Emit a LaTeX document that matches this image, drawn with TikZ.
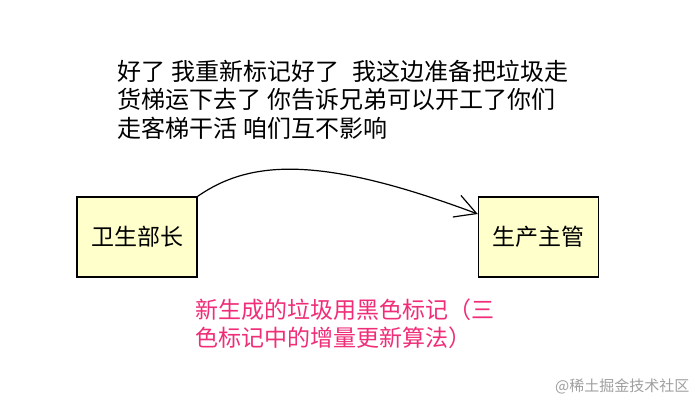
\documentclass[tikz,border=0pt]{standalone}
\usepackage{fontspec}
\setmainfont{Noto Sans CJK SC}
\usetikzlibrary{arrows.meta}
\definecolor{boxfill}{RGB}{255,255,204}
\definecolor{pinktext}{RGB}{240,45,120}
\definecolor{wmgray}{RGB}{160,160,160}
\tikzset{
  rolebox/.style={draw=black, line width=1.5pt, fill=boxfill, minimum width=120pt, minimum height=80pt, inner sep=0pt, font=\fontsize{23}{28}\selectfont},
  notetext/.style={anchor=base west, align=left, inner sep=0pt, font=\fontsize{24}{28.5}\selectfont},
  flow/.style={line width=1.2pt, -{Straight Barb[length=21pt,width=23pt,line width=1.2pt]}}
}
\newcommand{\gp}{\hspace{6.5pt}}
\begin{document}
\begin{tikzpicture}[x=1pt,y=-1pt]
\useasboundingbox[fill=white] (0,0) rectangle (700,408);
\node[notetext] (note) at (117,137) {好了\gp 我重新标记好了\gp\gp 我这边准备把垃圾走\\货梯运下去了\gp 你告诉兄弟可以开工了你们\\走客梯干活\gp 咱们互不影响};
\node[rolebox] (wsbz) at (137,237) {卫生部长};
\node[rolebox] (sczg) at (538.5,237) {生产主管};
\draw[flow] (wsbz.north east) .. controls (250,160) and (320,155) .. (sczg.west |- 0,214);
\node[notetext, text=pinktext, font=\fontsize{23}{28}\selectfont] (remark) at (195,346) {新生成的垃圾用黑色标记（三\\色标记中的增量更新算法）};
\node[anchor=base west, inner sep=0pt, text=wmgray, font=\fontsize{15}{18}\selectfont] (wm) at (555,391) {@稀土掘金技术社区};
\end{tikzpicture}
\end{document}
